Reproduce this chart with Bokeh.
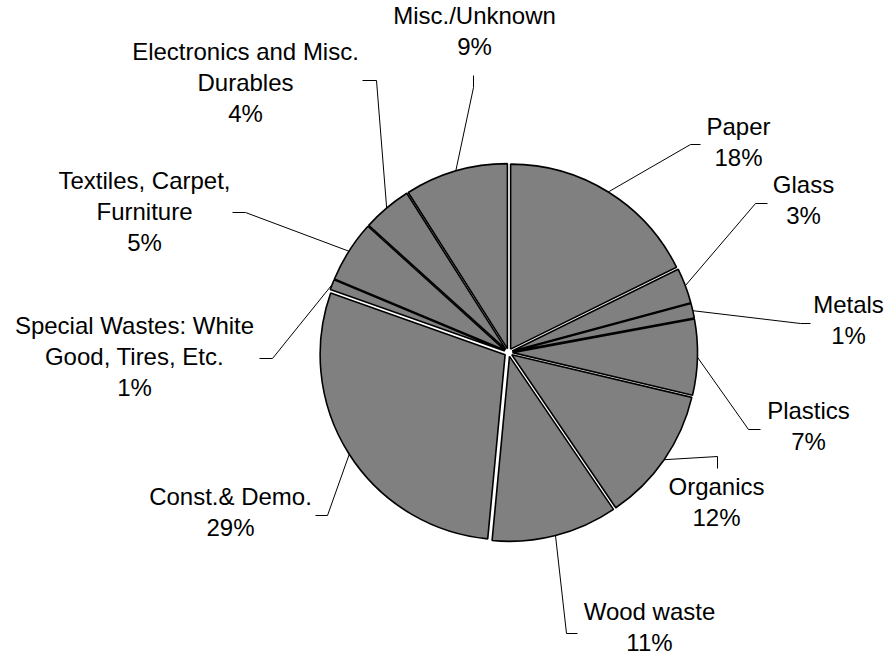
import math
from bokeh.plotting import figure
from bokeh.models import Range1d, ColumnDataSource
from bokeh.core.properties import value
from bokeh.embed import file_html
from bokeh.resources import INLINE

# ---- data (clockwise from 12 o'clock) ----
categories = ["Paper", "Glass", "Metals", "Plastics", "Organics", "Wood waste",
              "Const.& Demo.", "Special Wastes: White Good, Tires, Etc.",
              "Textiles, Carpet, Furniture", "Electronics and Misc. Durables",
              "Misc./Unknown"]
values = [17.7, 3.1, 1.3, 6.6, 11.8, 11.0, 28.9, 0.9, 5.4, 4.3, 9.0]
label_lines = [["Paper"], ["Glass"], ["Metals"], ["Plastics"], ["Organics"],
               ["Wood waste"], ["Const.& Demo."],
               ["Special Wastes: White", "Good, Tires, Etc."],
               ["Textiles, Carpet,", "Furniture"],
               ["Electronics and Misc.", "Durables"],
               ["Misc./Unknown"]]

# ---- layout (pixel coordinates, y down) ----
W, H = 888, 658
CX, CY, R, EXPLODE = 508, 352, 185, 4
label_x = [738, 803, 848, 808, 716, 649, 230, 134, 144, 245, 474]
label_y = [126, 184, 304, 410, 486, 611, 496, 325, 180, 51, 15]
LINE_H = 31
elbow = [(690, 144), (755, 203), (800, 323), (748, 429), (717, 456), (566, 633),
         (327, 515), (272, 358), (245, 212), (376, 80), (473, 87)]
tail = [(700, 144), (767, 203), (810, 323), (760, 429), (717, 468), (577, 633),
        (315, 515), (259, 358), (232, 212), (362, 80), (473, 75)]


def fy(y):
    return H - y


p = figure(width=W, height=H, x_range=Range1d(0, W), y_range=Range1d(0, H),
           output_backend="svg", toolbar_location=None, x_axis_type=None,
           y_axis_type=None, min_border=0)
p.outline_line_color = None
p.grid.visible = False
p.background_fill_color = "white"
p.border_fill_color = "white"

total = sum(values)
wx, wy, sa, ea = [], [], [], []
lxs, lys = [], []
tx, ty, tt = [], [], []
cum = 0.0
for i, v in enumerate(values):
    t1 = 2 * math.pi * cum / total
    t2 = 2 * math.pi * (cum + v) / total
    tm = (t1 + t2) / 2
    cum += v
    ox = CX + EXPLODE * math.sin(tm)
    oy = fy(CY) + EXPLODE * math.cos(tm)
    wx.append(ox)
    wy.append(oy)
    sa.append(math.pi / 2 - t1)
    ea.append(math.pi / 2 - t2)
    # leader line
    ex = CX + (R + EXPLODE) * math.sin(tm)
    ey = fy(CY) + (R + EXPLODE) * math.cos(tm)
    lxs.append([ex, elbow[i][0], tail[i][0]])
    lys.append([ey, fy(elbow[i][1]), fy(tail[i][1])])
    # labels
    lines = label_lines[i] + [f"{round(v)}%"]
    for k, s in enumerate(lines):
        tx.append(label_x[i])
        ty.append(fy(label_y[i] + k * LINE_H))
        tt.append(s)

src = ColumnDataSource(dict(x=wx, y=wy, sa=sa, ea=ea, cat=categories, val=values))
p.wedge(x="x", y="y", radius=R, start_angle="sa", end_angle="ea",
        direction="clock", source=src, fill_color="#808080",
        line_color="black", line_width=1.6)

p.multi_line(xs=lxs, ys=lys, line_color="black", line_width=1)

tsrc = ColumnDataSource(dict(x=tx, y=ty, text=tt))
p.text(x="x", y="y", text="text", source=tsrc, text_align="center",
       text_baseline="middle", text_font=value("Liberation Sans"),
       text_font_size="24px", text_color="black")

open("out.html", "w").write(file_html(p, INLINE))
